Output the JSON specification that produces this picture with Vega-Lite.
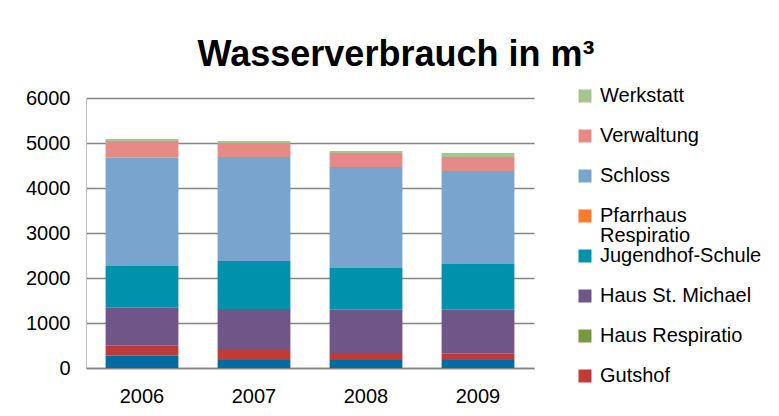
{
  "$schema": "https://vega.github.io/schema/vega-lite/v6.json",
  "width": 448,
  "height": 270,
  "autosize": {"type": "none"},
  "padding": {"left": 86, "top": 98, "right": 245, "bottom": 48},
  "background": "white",
  "title": {
    "text": "Wasserverbrauch in m³",
    "anchor": "middle",
    "dx": 86,
    "offset": -16,
    "baseline": "alphabetic",
    "font": "Liberation Sans",
    "fontSize": 36,
    "fontWeight": "bold",
    "color": "black"
  },
  "data": {
    "values": [
      {"Jahr": "2006", "Gebaeude": "Sonstige", "Nr": 1, "m3": 270},
      {"Jahr": "2006", "Gebaeude": "Gutshof", "Nr": 2, "m3": 222},
      {"Jahr": "2006", "Gebaeude": "Haus Respiratio", "Nr": 3, "m3": 0},
      {"Jahr": "2006", "Gebaeude": "Haus St. Michael", "Nr": 4, "m3": 845},
      {"Jahr": "2006", "Gebaeude": "Jugendhof-Schule", "Nr": 5, "m3": 930},
      {"Jahr": "2006", "Gebaeude": "Pfarrhaus Respiratio", "Nr": 6, "m3": 0},
      {"Jahr": "2006", "Gebaeude": "Schloss", "Nr": 7, "m3": 2408},
      {"Jahr": "2006", "Gebaeude": "Verwaltung", "Nr": 8, "m3": 370},
      {"Jahr": "2006", "Gebaeude": "Werkstatt", "Nr": 9, "m3": 44},
      {"Jahr": "2007", "Gebaeude": "Sonstige", "Nr": 1, "m3": 178},
      {"Jahr": "2007", "Gebaeude": "Gutshof", "Nr": 2, "m3": 222},
      {"Jahr": "2007", "Gebaeude": "Haus Respiratio", "Nr": 3, "m3": 0},
      {"Jahr": "2007", "Gebaeude": "Haus St. Michael", "Nr": 4, "m3": 911},
      {"Jahr": "2007", "Gebaeude": "Jugendhof-Schule", "Nr": 5, "m3": 1067},
      {"Jahr": "2007", "Gebaeude": "Pfarrhaus Respiratio", "Nr": 6, "m3": 0},
      {"Jahr": "2007", "Gebaeude": "Schloss", "Nr": 7, "m3": 2312},
      {"Jahr": "2007", "Gebaeude": "Verwaltung", "Nr": 8, "m3": 311},
      {"Jahr": "2007", "Gebaeude": "Werkstatt", "Nr": 9, "m3": 44},
      {"Jahr": "2008", "Gebaeude": "Sonstige", "Nr": 1, "m3": 178},
      {"Jahr": "2008", "Gebaeude": "Gutshof", "Nr": 2, "m3": 156},
      {"Jahr": "2008", "Gebaeude": "Haus Respiratio", "Nr": 3, "m3": 0},
      {"Jahr": "2008", "Gebaeude": "Haus St. Michael", "Nr": 4, "m3": 963},
      {"Jahr": "2008", "Gebaeude": "Jugendhof-Schule", "Nr": 5, "m3": 926},
      {"Jahr": "2008", "Gebaeude": "Pfarrhaus Respiratio", "Nr": 6, "m3": 0},
      {"Jahr": "2008", "Gebaeude": "Schloss", "Nr": 7, "m3": 2245},
      {"Jahr": "2008", "Gebaeude": "Verwaltung", "Nr": 8, "m3": 311},
      {"Jahr": "2008", "Gebaeude": "Werkstatt", "Nr": 9, "m3": 44},
      {"Jahr": "2009", "Gebaeude": "Sonstige", "Nr": 1, "m3": 178},
      {"Jahr": "2009", "Gebaeude": "Gutshof", "Nr": 2, "m3": 141},
      {"Jahr": "2009", "Gebaeude": "Haus Respiratio", "Nr": 3, "m3": 0},
      {"Jahr": "2009", "Gebaeude": "Haus St. Michael", "Nr": 4, "m3": 978},
      {"Jahr": "2009", "Gebaeude": "Jugendhof-Schule", "Nr": 5, "m3": 1015},
      {"Jahr": "2009", "Gebaeude": "Pfarrhaus Respiratio", "Nr": 6, "m3": 0},
      {"Jahr": "2009", "Gebaeude": "Schloss", "Nr": 7, "m3": 2067},
      {"Jahr": "2009", "Gebaeude": "Verwaltung", "Nr": 8, "m3": 311},
      {"Jahr": "2009", "Gebaeude": "Werkstatt", "Nr": 9, "m3": 89}
    ]
  },
  "mark": {"type": "bar"},
  "encoding": {
    "x": {
      "field": "Jahr",
      "type": "nominal",
      "title": null,
      "scale": {"paddingInner": 0.35, "paddingOuter": 0.175},
      "axis": {
        "labelAngle": 0,
        "labelFont": "Liberation Sans",
        "labelFontSize": 20,
        "labelColor": "black",
        "labelPadding": 18,
        "ticks": false,
        "domainColor": "#858585",
        "domainWidth": 1.3
      }
    },
    "y": {
      "field": "m3",
      "type": "quantitative",
      "stack": "zero",
      "title": null,
      "scale": {"domain": [0, 6000], "nice": false},
      "axis": {
        "values": [0, 1000, 2000, 3000, 4000, 5000, 6000],
        "format": "d",
        "labelFont": "Liberation Sans",
        "labelFontSize": 20,
        "labelColor": "black",
        "labelPadding": 16,
        "ticks": false,
        "domainColor": "#bfbfbf",
        "gridColor": "#858585",
        "gridWidth": 1.3,
        "gridOpacity": 1
      }
    },
    "order": {"field": "Nr", "type": "quantitative", "sort": "ascending"},
    "color": {
      "field": "Gebaeude",
      "type": "nominal",
      "scale": {
        "domain": ["Sonstige", "Gutshof", "Haus Respiratio", "Haus St. Michael", "Jugendhof-Schule", "Pfarrhaus Respiratio", "Schloss", "Verwaltung", "Werkstatt"],
        "range": ["#006ba0", "#be3b38", "#77983f", "#705688", "#0092ac", "#f77b2e", "#79a4cd", "#e68a88", "#a6c58e"]
      },
      "legend": {
        "title": null,
        "orient": "none",
        "legendX": 489,
        "legendY": -12,
        "padding": 0,
        "values": ["Werkstatt", "Verwaltung", "Schloss", "Pfarrhaus Respiratio", "Jugendhof-Schule", "Haus St. Michael", "Haus Respiratio", "Gutshof"],
        "symbolType": "square",
        "symbolSize": 169,
        "symbolStrokeWidth": 0,
        "symbolOpacity": 1,
        "labelFont": "Liberation Sans",
        "labelFontSize": 20,
        "labelColor": "black",
        "labelOffset": 5,
        "labelLimit": 300,
        "rowPadding": 0,
        "labelExpr": "datum.value == 'Pfarrhaus Respiratio' ? ['Pfarrhaus', 'Respiratio'] : [datum.label, '']"
      }
    }
  },
  "config": {
    "view": {"stroke": null},
    "font": "Liberation Sans",
    "style": {"guide-label": {"lineHeight": 19.8}}
  }
}
